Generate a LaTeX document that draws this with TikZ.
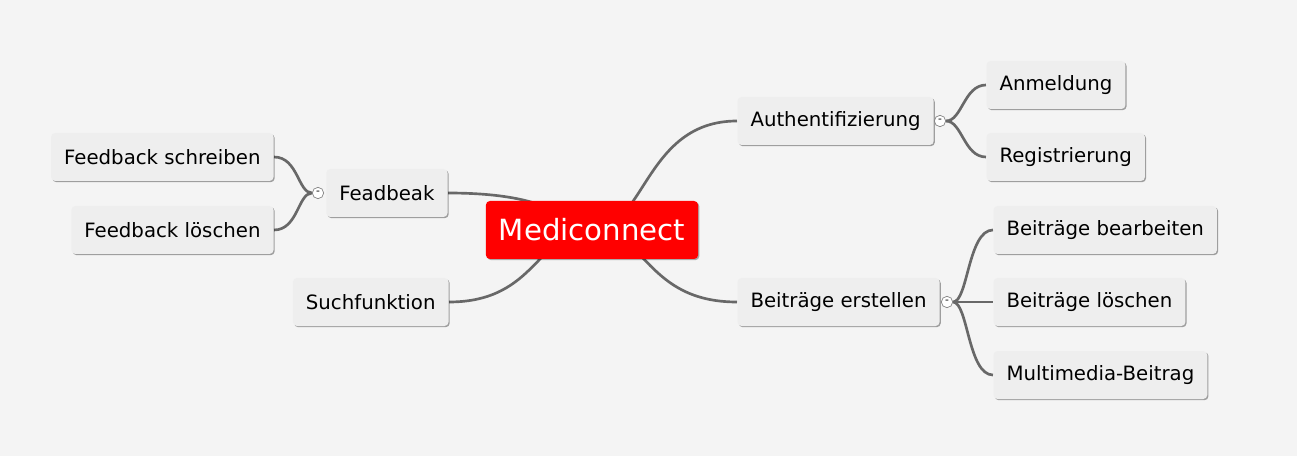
\documentclass[tikz,border=0pt]{standalone}
\usepackage{fontspec}
\setmainfont{DejaVu Sans}
\usetikzlibrary{shadows,backgrounds}

\definecolor{canvasgray}{RGB}{244,244,244}
\definecolor{topicgray}{RGB}{238,238,238}
\definecolor{branchgray}{RGB}{104,104,104}
\definecolor{mapred}{RGB}{255,0,0}

\tikzset{every picture/.style={line width=0.75pt}}
\tikzset{
  topic/.style={fill=topicgray, rounded corners=3pt, minimum height=36pt, inner xsep=9.75pt,
    font=\fontsize{14.8}{17}\selectfont,
    drop shadow={shadow xshift=0.9pt, shadow yshift=-0.9pt, fill=black, opacity=0.35}},
  central/.style={fill=mapred, text=white, rounded corners=3pt, minimum height=43.5pt, inner xsep=9.75pt,
    font=\fontsize{21.9}{25}\selectfont,
    drop shadow={shadow xshift=0.9pt, shadow yshift=-0.9pt, fill=black, opacity=0.3}},
  collapse/.style={circle, draw=gray, fill=white, line width=0.5pt, minimum size=8.5pt, inner sep=0pt,
    font=\fontsize{8}{8}\selectfont},
  branch/.style={draw=branchgray, line width=2pt}
}

\begin{document}
\begin{tikzpicture}[x=0.75pt,y=0.75pt,yscale=-1,xscale=1]
    \useasboundingbox (0,0) rectangle (1297,456);

    % Central topic
    \node [central] (mediconnect) at (592,230) {Mediconnect};

    % Left side
    \node [topic, anchor=east] (feadbeak) at (448,193) {Feadbeak};
    \node [collapse] (cfeadbeak) at (318,193) {-};
    \node [topic, anchor=east] (fbschreiben) at (274,157) {Feedback schreiben};
    \node [topic, anchor=east] (fbloeschen) at (274,230) {Feedback löschen};
    \node [topic, anchor=east] (suchfunktion) at (449,302) {Suchfunktion};

    % Right side
    \node [topic, anchor=west] (auth) at (737,121) {Authentifizierung};
    \node [collapse] (cauth) at (940,121) {-};
    \node [topic, anchor=west] (anmeldung) at (986,85) {Anmeldung};
    \node [topic, anchor=west] (registrierung) at (986,157) {Registrierung};

    \node [topic, anchor=west] (erstellen) at (737,302) {Beiträge erstellen};
    \node [collapse] (cerstellen) at (947,302) {-};
    \node [topic, anchor=west] (bearbeiten) at (993,230) {Beiträge bearbeiten};
    \node [topic, anchor=west] (bloeschen) at (993,302) {Beiträge löschen};
    \node [topic, anchor=west] (multimedia) at (993,375) {Multimedia-Beitrag};

    \begin{scope}[on background layer]
    \fill [canvasgray] (0,0) rectangle (1297,456);

    % Main branches
    \draw [branch] (mediconnect.center) .. controls +(-24.5,0) and +(119.5,0) .. (feadbeak.east);
    \draw [branch] (mediconnect.center) .. controls +(-54.5,0) and +(88.5,0) .. (suchfunktion.east);
    \draw [branch] (mediconnect.center) .. controls +(53,0) and +(-92,0) .. (auth.west);
    \draw [branch] (mediconnect.center) .. controls +(54,0) and +(-91,0) .. (erstellen.west);

    % Sub branches
    \draw [branch] (cfeadbeak.west) .. controls +(-14,0) and +(24,0) .. (fbschreiben.east);
    \draw [branch] (cfeadbeak.west) .. controls +(-14,0) and +(24,0) .. (fbloeschen.east);
    \draw [branch] (cauth.east) .. controls +(16,0) and +(-22,0) .. (anmeldung.west);
    \draw [branch] (cauth.east) .. controls +(16,0) and +(-22,0) .. (registrierung.west);
    \draw [branch] (cerstellen.east) .. controls +(15,0) and +(-25,0) .. (bearbeiten.west);
    \draw [branch] (cerstellen.east) -- (bloeschen.west);
    \draw [branch] (cerstellen.east) .. controls +(15,0) and +(-25,0) .. (multimedia.west);
    \end{scope}

\end{tikzpicture}
\end{document}
